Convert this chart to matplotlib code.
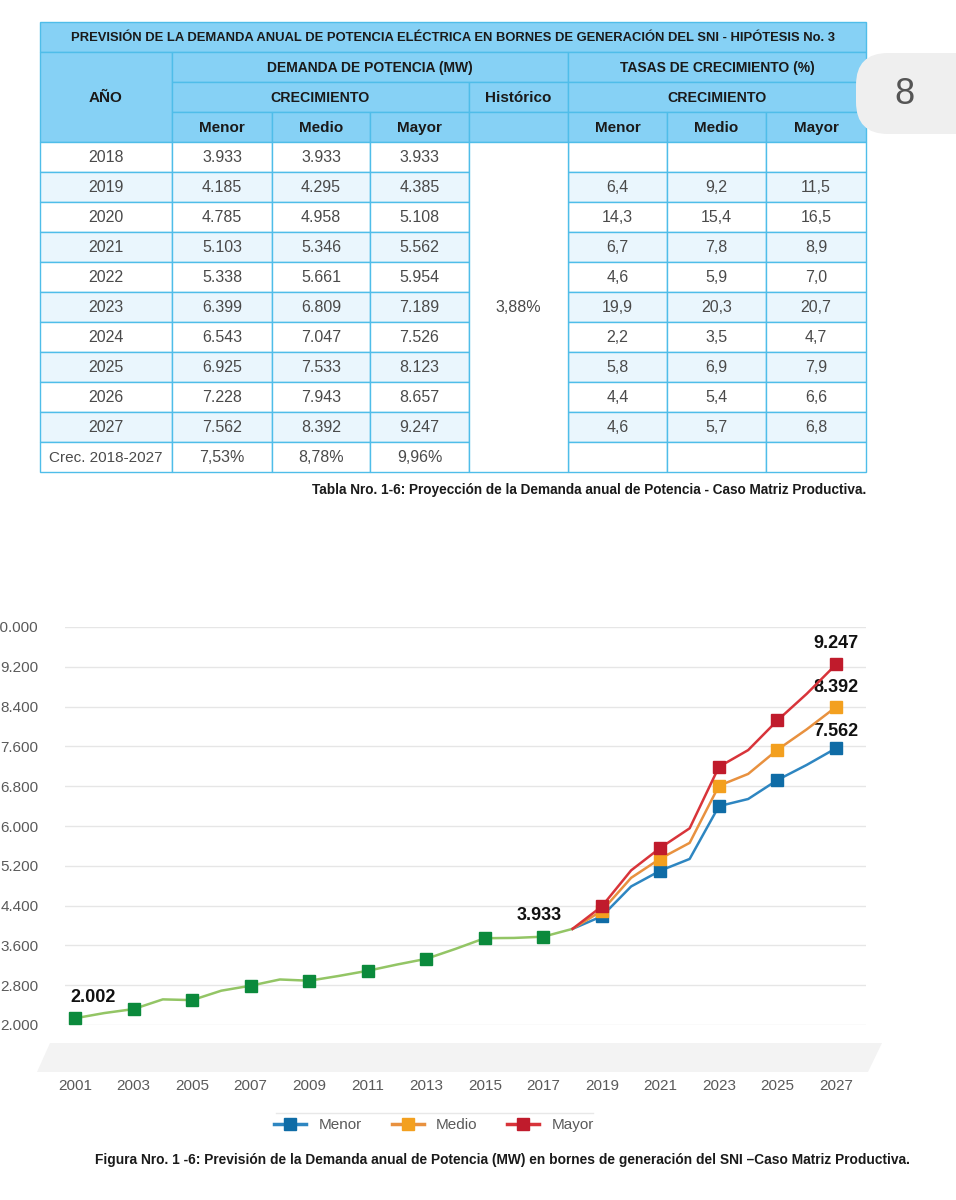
import matplotlib
matplotlib.use('Agg')
import matplotlib.pyplot as plt
from matplotlib.patches import Rectangle, Polygon, FancyBboxPatch
from matplotlib.lines import Line2D
from matplotlib.ticker import FuncFormatter

plt.rcParams['font.family'] = ['Liberation Sans', 'DejaVu Sans']

# ---- datos de la tabla ----
anios = ['2018', '2019', '2020', '2021', '2022', '2023', '2024', '2025', '2026', '2027']
menor_mw = [3933, 4185, 4785, 5103, 5338, 6399, 6543, 6925, 7228, 7562]
medio_mw = [3933, 4295, 4958, 5346, 5661, 6809, 7047, 7533, 7943, 8392]
mayor_mw = [3933, 4385, 5108, 5562, 5954, 7189, 7526, 8123, 8657, 9247]
tasa_menor = [None, 6.4, 14.3, 6.7, 4.6, 19.9, 2.2, 5.8, 4.4, 4.6]
tasa_medio = [None, 9.2, 15.4, 7.8, 5.9, 20.3, 3.5, 6.9, 5.4, 5.7]
tasa_mayor = [None, 11.5, 16.5, 8.9, 7.0, 20.7, 4.7, 7.9, 6.6, 6.8]
crec_total = ['7,53%', '8,78%', '9,96%']
historico = '3,88%'

# ---- datos del grafico (historico) ----
hist_anios = list(range(2001, 2019))
hist_mw = [2135, 2240, 2320, 2515, 2500, 2690, 2790, 2915, 2890, 2985,
           3090, 3215, 3330, 3530, 3745, 3750, 3775, 3933]
proy_anios = list(range(2018, 2028))

W, H = 956, 1200
fig = plt.figure(figsize=(W / 100, H / 100), dpi=100)

# capa de fondo en pixeles
bg = fig.add_axes([0, 0, 1, 1], zorder=0)
bg.set_xlim(0, W)
bg.set_ylim(H, 0)
bg.axis('off')

header_fc = '#86d1f5'
edge = '#4fbde9'
alt_fc = '#eaf6fd'
txt_h = '#1a1a1a'
txt_d = '#4a4a4a'

cols = [40, 172, 272, 370, 469, 568, 667, 766, 866]
rh = 30


def cell(x0, x1, y0, y1, fc, text='', bold=False, color=txt_d, size=11.5):
    bg.add_patch(Rectangle((x0, y0), x1 - x0, y1 - y0, facecolor=fc,
                           edgecolor=edge, linewidth=1.0))
    if text:
        bg.text((x0 + x1) / 2, (y0 + y1) / 2 + 1, text, ha='center', va='center',
                fontsize=size, color=color, fontweight='bold' if bold else 'normal')


# cabecera
cell(40, 866, 22, 52, header_fc,
     'PREVISIÓN DE LA DEMANDA ANUAL DE POTENCIA ELÉCTRICA EN BORNES DE GENERACIÓN DEL SNI - HIPÓTESIS No. 3',
     True, txt_h, 9.4)
cell(40, 172, 52, 142, header_fc, 'AÑO', True, txt_h, 11)
cell(172, 568, 52, 82, header_fc, 'DEMANDA DE POTENCIA (MW)', True, txt_h, 10)
cell(568, 866, 52, 82, header_fc, 'TASAS DE CRECIMIENTO (%)', True, txt_h, 10)
cell(172, 469, 82, 112, header_fc, 'CRECIMIENTO', True, txt_h, 10.2)
cell(469, 568, 82, 112, header_fc, 'Histórico', True, txt_h, 11)
cell(568, 866, 82, 112, header_fc, 'CRECIMIENTO', True, txt_h, 10.2)
sub = ['Menor', 'Medio', 'Mayor', '', 'Menor', 'Medio', 'Mayor']
for i, s in enumerate(sub):
    cell(cols[i + 1], cols[i + 2], 112, 142, header_fc, s, True, txt_h, 11)


def fmt_mw(v):
    return f'{v:,}'.replace(',', '.')


def fmt_t(v):
    return '' if v is None else f'{v:.1f}'.replace('.', ',')


y0 = 142
for i, a in enumerate(anios):
    fc = alt_fc if i % 2 == 1 else 'white'
    ya, yb = y0 + i * rh, y0 + (i + 1) * rh
    vals = [a, fmt_mw(menor_mw[i]), fmt_mw(medio_mw[i]), fmt_mw(mayor_mw[i])]
    for j, v in enumerate(vals):
        cell(cols[j], cols[j + 1], ya, yb, fc, v)
    for j, v in enumerate([tasa_menor[i], tasa_medio[i], tasa_mayor[i]]):
        cell(cols[5 + j], cols[6 + j], ya, yb, fc, fmt_t(v))
ya = y0 + len(anios) * rh
yb = ya + rh
cell(cols[0], cols[1], ya, yb, 'white', 'Crec. 2018-2027', size=11)
for j, v in enumerate(crec_total):
    cell(cols[j + 1], cols[j + 2], ya, yb, 'white', v)
for j in range(3):
    cell(cols[5 + j], cols[6 + j], ya, yb, 'white')
# columna historico combinada
cell(469, 568, 142, yb, 'white')
bg.text(518.5, 142 + 5.5 * rh + 1, historico, ha='center', va='center',
        fontsize=11.5, color=txt_d)

bg.text(866, 490, 'Tabla Nro. 1-6: Proyección de la Demanda anual de Potencia - Caso Matriz Productiva.',
        ha='right', va='center', fontsize=9.85, fontweight='bold', color=txt_h)

# numero de pagina
bg.add_patch(FancyBboxPatch((856, 53), 130, 81, boxstyle='round,pad=0,rounding_size=32',
                            facecolor='#efefef', edgecolor='none'))
bg.text(904, 94, '8', ha='center', va='center', fontsize=26, color='#555555')

# piso gris del grafico
bg.add_patch(Polygon([[50, 1043], [882, 1043], [868, 1072], [37, 1072]],
                     closed=True, facecolor='#f3f3f3', edgecolor='none'))
# linea sobre la leyenda
bg.plot([276, 593], [1113, 1113], color='#e8e8e8', lw=1)

# ---- grafico ----
ax_l, ax_r, ax_t, ax_b = 65, 866, 627, 1025
ax = fig.add_axes([ax_l / W, 1 - ax_b / H, (ax_r - ax_l) / W, (ax_b - ax_t) / H], zorder=2)
ax.patch.set_alpha(0)
ppx = 26 / (836 - 75)
ax.set_xlim(2001 - (75 - ax_l) * ppx, 2027 + (ax_r - 836) * ppx)
ax.set_ylim(2000, 10000)
ax.set_yticks(range(2000, 10001, 800))
ax.yaxis.set_major_formatter(FuncFormatter(lambda v, p: f'{v / 1000:.3f}'))
ax.set_xticks(range(2001, 2028, 2))
ax.grid(axis='y', color='#e6e6e6', lw=1)
ax.set_axisbelow(True)
for s in ax.spines.values():
    s.set_visible(False)
ax.tick_params(axis='both', length=0, labelsize=11, labelcolor='#5a5a5a')
ax.tick_params(axis='y', pad=19)
ax.tick_params(axis='x', pad=39)

ax.plot(hist_anios, hist_mw, color='#93c565', lw=1.8, marker='s', markersize=8,
        markerfacecolor='#0b8a3c', markeredgecolor='#0b8a3c',
        markevery=slice(0, 17, 2), zorder=3)

series = [('Menor', menor_mw, '#2e86c1', '#0f6ca6'),
          ('Medio', medio_mw, '#e8913f', '#f3a01f'),
          ('Mayor', mayor_mw, '#d8343a', '#c01b2c')]
for nombre, vals, lc, mc in series:
    ax.plot(proy_anios, vals, color=lc, lw=1.8, marker='s', markersize=8,
            markerfacecolor=mc, markeredgecolor=mc, markevery=slice(1, None, 2), zorder=4)

lbl = dict(fontsize=13, fontweight='bold', color='#111111', textcoords='offset pixels')
ax.annotate(fmt_mw(mayor_mw[-1]), (2027, mayor_mw[-1]), xytext=(0, 21), ha='center', va='center', **lbl)
ax.annotate(fmt_mw(medio_mw[-1]), (2027, medio_mw[-1]), xytext=(0, 19), ha='center', va='center', **lbl)
ax.annotate(fmt_mw(menor_mw[-1]), (2027, menor_mw[-1]), xytext=(0, 17), ha='center', va='center', **lbl)
ax.annotate('3.933', (2017, hist_mw[16]), xytext=(-4, 21), ha='center', va='center', **lbl)
ax.annotate('2.002', (2001, hist_mw[0]), xytext=(-5, 21), ha='left', va='center', **lbl)

handles = [Line2D([], [], color=lc, lw=2.5, marker='s', markersize=8,
                  markerfacecolor=mc, markeredgecolor=mc) for _, _, lc, mc in series]
fig.legend(handles, [s[0] for s in series], loc='center', bbox_to_anchor=(434 / W, 1 - 1125 / H),
           ncol=3, frameon=False, fontsize=11, labelcolor='#5a5a5a',
           handlelength=2.1, columnspacing=1.95, handletextpad=0.8)

fig.text(910 / W, 1 - 1160 / H,
         'Figura Nro. 1 -6: Previsión de la Demanda anual de Potencia (MW) en bornes de generación del SNI –Caso Matriz Productiva.',
         ha='right', va='center', fontsize=9.9, fontweight='bold', color=txt_h)

fig.savefig('out.png', dpi=100, facecolor='white')
